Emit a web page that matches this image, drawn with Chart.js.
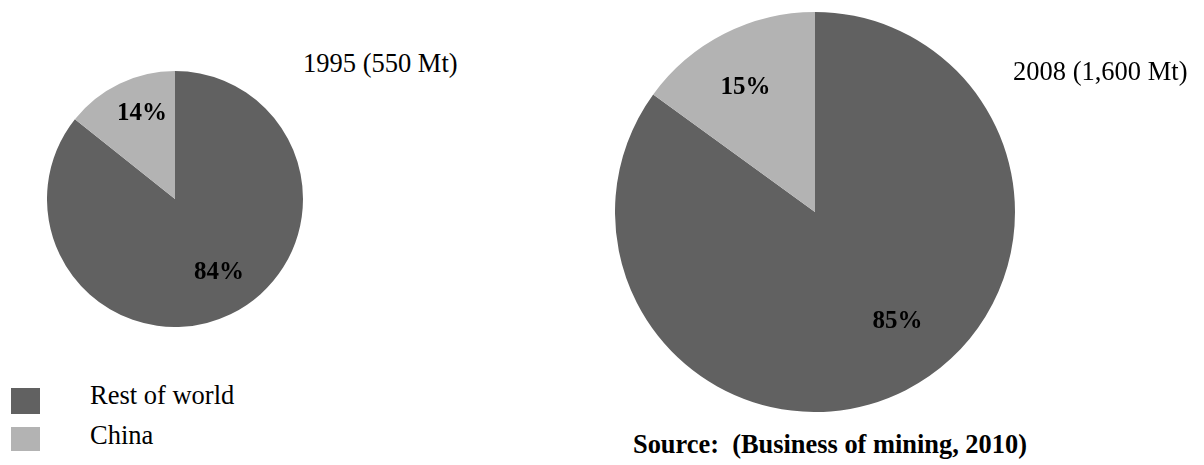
<!DOCTYPE html>
<html>
<head>
<meta charset="utf-8">
<script src="https://cdn.jsdelivr.net/npm/chart.js@4/dist/chart.umd.min.js"></script>
<style>
  html, body { margin: 0; padding: 0; background: #fff; }
  body { width: 1204px; height: 465px; position: relative; overflow: hidden;
         font-family: "Liberation Serif", "Times New Roman", serif; color: #000; }
  canvas { position: absolute; }
  .txt { position: absolute; white-space: nowrap; line-height: 1; font-size: 26.5px; }
  .legend-box { position: absolute; left: 11px; width: 29px; }
  .source { font-weight: bold; font-size: 26.4px; }
</style>
</head>
<body>
<canvas id="pie1995" width="256" height="256" style="left:47px; top:71px;"></canvas>
<canvas id="pie2008" width="400" height="400" style="left:615px; top:12px;"></canvas>
<div class="txt" id="title1995" style="left:303px; top:50px;"></div>
<div class="txt" id="title2008" style="left:1013px; top:58px;"></div>
<div id="legend"></div>
<div class="txt source" id="source" style="left:633px; top:431px;"></div>
<script>
// shares of production, percent
const regions = ["Rest of world", "China"];
const share1995 = [84, 14];
const share2008 = [85, 15];
const titles = ["1995 (550 Mt)", "2008 (1,600 Mt)"];
const sourceNote = "Source:\u00a0\u00a0(Business of mining, 2010)";

const sliceColors = ["#616161", "#b3b3b3"];

// writes the share text inside each slice, about 70% of the way out,
// with a small per-slice nudge
const sliceLabels = {
  id: "sliceLabels",
  afterDatasetsDraw(chart, args, opts) {
    const { ctx } = chart;
    const meta = chart.getDatasetMeta(0);
    const values = chart.data.datasets[0].data;
    const nudge = opts.nudge || [];
    ctx.save();
    ctx.font = "bold 25px 'Liberation Serif', 'Times New Roman', serif";
    ctx.fillStyle = "#000";
    ctx.textAlign = "center";
    ctx.textBaseline = "middle";
    meta.data.forEach((arc, i) => {
      const { x, y, startAngle, endAngle, outerRadius } = arc.getProps(
        ["x", "y", "startAngle", "endAngle", "outerRadius"], true);
      const mid = (startAngle + endAngle) / 2;
      const r = outerRadius * 0.7;
      const [nx, ny] = nudge[i] || [0, 0];
      ctx.fillText(values[i] + "%", x + Math.cos(mid) * r + nx, y + Math.sin(mid) * r + ny);
    });
    ctx.restore();
  },
};

function makePie(canvasId, data, nudge) {
  return new Chart(document.getElementById(canvasId), {
    type: "pie",
    data: {
      labels: regions,
      datasets: [
        {
          data,
          backgroundColor: sliceColors,
          borderWidth: 0,
        },
      ],
    },
    plugins: [sliceLabels],
    options: {
      responsive: false,
      animation: false,
      layout: { padding: 0 },
      plugins: {
        legend: { display: false },
        tooltip: { enabled: false },
        sliceLabels: { nudge },
      },
    },
  });
}

makePie("pie1995", share1995, [[5, -7], [6, -5]]);
makePie("pie2008", share2008, [[19, -15], [-6, 0]]);

document.getElementById("title1995").textContent = titles[0];
document.getElementById("title2008").textContent = titles[1];
document.getElementById("source").textContent = sourceNote;

// html legend below the small pie
const legend = document.getElementById("legend");
const boxTops = [388, 427];
const boxHeights = [26, 24];
const textTops = [382, 422];
regions.forEach((name, i) => {
  const box = document.createElement("div");
  box.className = "legend-box";
  box.style.top = boxTops[i] + "px";
  box.style.height = boxHeights[i] + "px";
  box.style.background = sliceColors[i];
  const text = document.createElement("div");
  text.className = "txt";
  text.style.left = "90px";
  text.style.top = textTops[i] + "px";
  text.textContent = name;
  legend.appendChild(box);
  legend.appendChild(text);
});
</script>
</body>
</html>
